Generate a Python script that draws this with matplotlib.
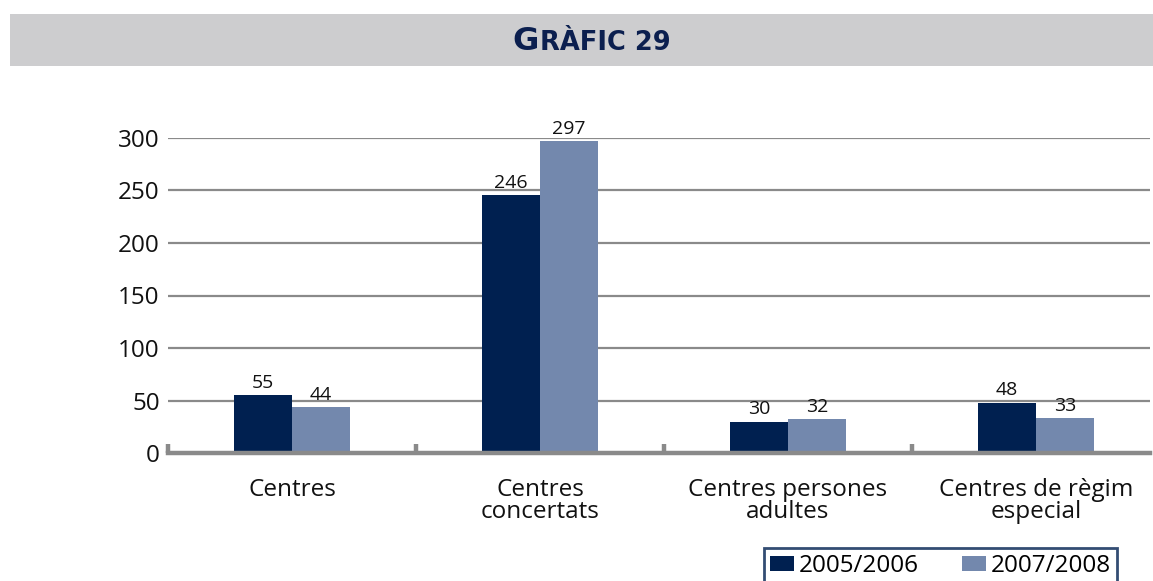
#!/usr/bin/env python3
"""
Gràfic 29: centres per tipus, cursos 2005/2006 i 2007/2008.
Bar chart saved to out.png.
"""

import numpy as np
import matplotlib.pyplot as plt
from matplotlib.patches import Rectangle

# Data
categories = ["Centres", "Centres\nconcertats", "Centres persones\nadultes",
              "Centres de règim\nespecial"]
years = ["2005/2006", "2007/2008"]
values_2005 = [55, 246, 30, 48]
values_2007 = [44, 297, 32, 33]
yticks = [0, 50, 100, 150, 200, 250, 300]

DARK = "#002050"
LIGHT = "#7388ad"
GRID = "#8a8a8a"
TITLE = "#0b1f4f"


def main():
    plt.rcParams["font.family"] = ["Open Sans", "DejaVu Sans"]

    W, H = 1153, 581
    fig = plt.figure(figsize=(W / 100, H / 100), dpi=100)

    # Title band
    fig.patches.append(Rectangle((10 / W, 1 - 66 / H), 1 - 10 / W, 52 / H,
                                 transform=fig.transFigure, facecolor="#cdcdcf",
                                 edgecolor="none", zorder=0))
    x_split = 539 / W
    y_base = 1 - 50 / H
    fig.text(x_split, y_base, "G", ha="right", va="baseline", fontsize=23,
             fontweight="bold", color=TITLE, family="DejaVu Sans")
    fig.text(x_split + 1 / W, y_base, "RÀFIC 29", ha="left", va="baseline",
             fontsize=18.5, fontweight="bold", color=TITLE, family="DejaVu Sans")

    # Axes
    left, right = 168 / W, 1150 / W
    bottom, top = 1 - 453 / H, 1 - 138 / H
    ax = fig.add_axes([left, bottom, right - left, top - bottom])

    x = np.arange(len(categories))
    w = 0.234
    b1 = ax.bar(x - w / 2, values_2005, w, color=DARK, label=years[0], zorder=3)
    b2 = ax.bar(x + w / 2, values_2007, w, color=LIGHT, label=years[1], zorder=3)

    for bars in (b1, b2):
        for rect in bars:
            h = rect.get_height()
            ax.text(rect.get_x() + rect.get_width() / 2, h + 3, f"{h:g}",
                    ha="center", va="bottom", fontsize=14, color="#111111",
                    zorder=4)

    ax.set_xlim(-0.5, 3.46)
    ax.set_ylim(0, 300)

    # Gridlines
    for t in yticks[1:]:
        ax.axhline(t, color=GRID, lw=1.6, zorder=1)
    # Baseline and category separators
    ax.axhline(0, color=GRID, lw=3.2, zorder=5, clip_on=False)
    for s in np.arange(-0.5, 3.0, 1.0):
        ax.plot([s, s], [0, 9], color=GRID, lw=3.2, zorder=5,
                solid_capstyle="butt", clip_on=False)

    for sp in ax.spines.values():
        sp.set_visible(False)

    ax.set_yticks(yticks)
    ax.set_yticklabels([str(t) for t in yticks], fontsize=17.5, color="#111111")
    ax.set_xticks(x)
    ax.set_xticklabels(categories, fontsize=17.5, color="#111111", linespacing=0.9)
    ax.tick_params(axis="y", length=0, pad=6)
    ax.tick_params(axis="x", length=0, pad=18)

    leg = fig.legend(handles=[b1, b2], labels=years, loc="upper left",
                     bbox_to_anchor=(764 / W, 1 - 548 / H), ncol=2,
                     fontsize=17.5, frameon=True, fancybox=False,
                     borderaxespad=0, borderpad=0.25, handlelength=1.0,
                     handleheight=0.55, handletextpad=0.2, columnspacing=1.75)
    leg.get_frame().set_edgecolor(DARK)
    leg.get_frame().set_linewidth(2)

    fig.savefig("out.png", dpi=100)


if __name__ == "__main__":
    main()
